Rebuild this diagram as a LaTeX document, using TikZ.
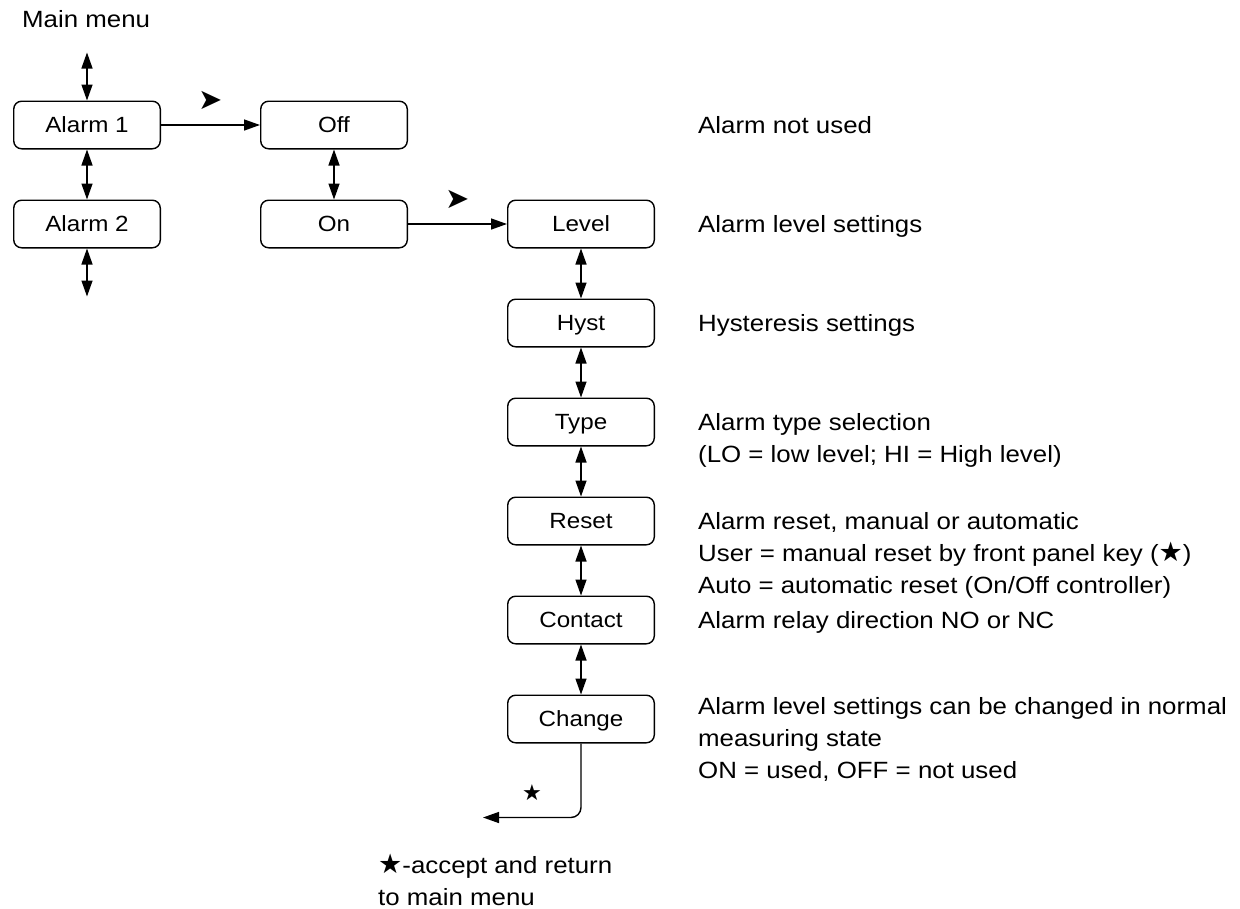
\documentclass[tikz,border=0pt]{standalone}
\usepackage{fontspec}
\setmainfont{Liberation Sans}[FakeStretch=1.1]
\newfontfamily\symfont{DejaVu Sans}[Scale=0.85]
\newfontfamily\keyfont{DejaVu Sans}[Scale=1.15]
\usepackage{tikz}
\usetikzlibrary{arrows.meta,positioning,calc}
\newcommand\keystar{{\keyfont ★}}

\begin{document}
\begin{tikzpicture}[
    menubox/.style={draw,line width=1.4pt,rounded corners=8pt,minimum width=146.6pt,
      minimum height=47.6pt,inner sep=0pt,text height=15.8pt,text depth=0pt,
      font=\fontsize{22pt}{26pt}\selectfont},
    desc/.style={anchor=north west,align=left,inner sep=0pt,
      font=\fontsize{23.5pt}{32pt}\selectfont},
    enter/.style={inner sep=0pt,font=\fontsize{34pt}{34pt}\selectfont\symfont},
    go/.style={line width=1.4pt,-{Triangle[length=16pt,width=11pt]}},
    updown/.style={line width=1.4pt,{Triangle[length=16pt,width=11pt]}-{Triangle[length=16pt,width=11pt]}}
  ]
      \useasboundingbox (0,0) rectangle (1240pt,-908pt);

      \node[desc,anchor=base west] at (22pt,-27pt)(mainmenu){Main menu};

      \node[menubox] at (87pt,-125pt)(alarmone){Alarm 1};
      \node[menubox,below=50pt of alarmone](alarmtwo){Alarm 2};
      \node[menubox,right=99pt of alarmone](off){Off};
      \node[menubox,below=50pt of off](on){On};
      \node[menubox,right=99pt of on](level){Level};
      \node[menubox,below=50pt of level](hyst){Hyst};
      \node[menubox,below=50pt of hyst](type){Type};
      \node[menubox,below=50pt of type](reset){Reset};
      \node[menubox,below=50pt of reset](contact){Contact};
      \node[menubox,below=50pt of contact](change){Change};

      \coordinate[above=48pt of alarmone](menuin);
      \coordinate[below=48pt of alarmtwo](menuout);
      \coordinate (back) at ($(change.south)+(-98pt,-74pt)$);

      \node[enter] at ($(alarmone.east)!.5!(off.west)+(0,25pt)$)(enterone){➤};
      \node[enter] at ($(on.east)!.5!(level.west)+(0,25pt)$)(entertwo){➤};
      \node[enter,font=\fontsize{26pt}{26pt}\selectfont\symfont] at ($(back)+(49pt,25pt)$)(acceptkey){★};

      \node[desc] at ($(off.east)+(290pt,8.6pt)$)(offinfo){Alarm not used};
      \node[desc] at ($(level.east)+(43pt,8.6pt)$)(levelinfo){Alarm level settings};
      \node[desc] at ($(hyst.east)+(43pt,8.6pt)$)(hystinfo){Hysteresis settings};
      \node[desc] at ($(type.east)+(43pt,8.6pt)$)(typeinfo){Alarm type selection\\(LO = low level; HI = High level)};
      \node[desc] at ($(reset.east)+(43pt,8.6pt)$)(resetinfo){Alarm reset, manual or automatic\\User = manual reset by front panel key (\keystar)\\Auto = automatic reset (On/Off controller)};
      \node[desc] at ($(contact.east)+(43pt,8.6pt)$)(contactinfo){Alarm relay direction NO or NC};
      \node[desc] at ($(change.east)+(43pt,21.6pt)$)(changeinfo){Alarm level settings can be changed in normal\\measuring state\\ON = used, OFF = not used};
      \node[desc] at ($(back)+(-105pt,-36pt)$)(backinfo){\keystar-accept and return\\to main menu};

      \draw[updown] (menuin) -- (alarmone);
      \draw[updown] (alarmone) -- (alarmtwo);
      \draw[updown] (alarmtwo) -- (menuout);
      \draw[go] (alarmone) -- (off);
      \draw[updown] (off) -- (on);
      \draw[go] (on) -- (level);
      \draw[updown] (level) -- (hyst);
      \draw[updown] (hyst) -- (type);
      \draw[updown] (type) -- (reset);
      \draw[updown] (reset) -- (contact);
      \draw[updown] (contact) -- (change);
      \draw[go,rounded corners=10pt] (change.south) |- (back);
    \end{tikzpicture}
\end{document}
